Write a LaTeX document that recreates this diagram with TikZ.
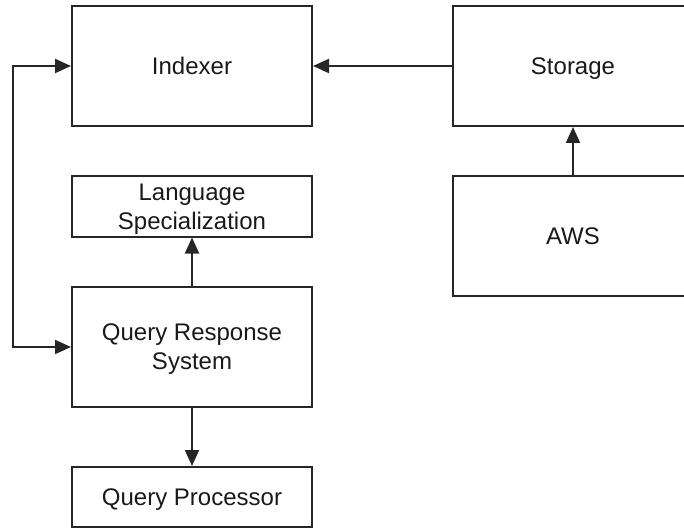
\documentclass[tikz,border=0pt]{standalone}
\usepackage{fontspec}
\setmainfont{Liberation Sans}
\usetikzlibrary{arrows.meta}
\begin{document}
\begin{tikzpicture}[x=0.5pt,y=-0.5pt,
  box/.style={draw=black!85, line width=1pt, inner sep=0pt, align=center,
              font=\fontsize{12}{14.5}\selectfont, text=black!90,
              text depth=0pt, minimum width=120pt},
  tall/.style={box, minimum height=60pt},
  short/.style={box, minimum height=30pt},
  tip/.style={Triangle[length=8pt,width=7pt]},
  link/.style={draw=black!85, line width=1pt, -{Triangle[length=8pt,width=7pt]}},
  dlink/.style={draw=black!85, line width=1pt, {Triangle[length=8pt,width=7pt]}-{Triangle[length=8pt,width=7pt]}}]
\useasboundingbox (0,0) rectangle (684,529);
\begin{scope}
\clip (0,0) rectangle (684,529);
% left column
\node[tall]  (indexer) at (192,66)  {Indexer};
\node[short] (lang)    at (192,206.5) {Language\\Specialization};
\node[tall]  (qrs)     at (192,347) {Query Response\\System};
\node[short] (qp)      at (192,497) {Query Processor};
% right column
\node[tall]  (storage) at (573,66)  {Storage};
\node[tall]  (aws)     at (573,236) {AWS};
% connectors
\draw[link] (storage.west) -- (indexer.east);
\draw[link] (aws.north) -- (storage.south);
\draw[link] (qrs.north) -- (lang.south);
\draw[link] (qrs.south) -- (qp.north);
\coordinate (lt) at (13,66);
\coordinate (lb) at (13,347);
\draw[dlink] (indexer.west) -- (lt) -- (lb) -- (qrs.west);
\end{scope}
\end{tikzpicture}
\end{document}
